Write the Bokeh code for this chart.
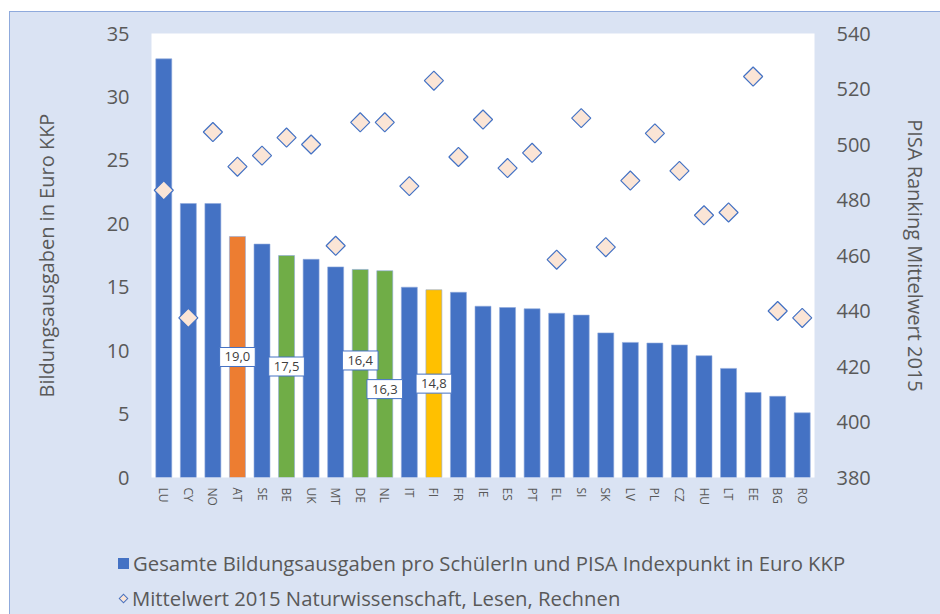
import numpy as np
from bokeh.plotting import figure
from bokeh.layouts import column
from bokeh.models import (ColumnDataSource, LinearAxis, Range1d, FactorRange, FixedTicker, Div)
from bokeh.core.properties import value
from bokeh.embed import file_html
from bokeh.resources import INLINE

countries = ["LU", "CY", "NO", "AT", "SE", "BE", "UK", "MT", "DE", "NL", "IT", "FI",
             "FR", "IE", "ES", "PT", "EL", "SI", "SK", "LV", "PL", "CZ", "HU", "LT",
             "EE", "BG", "RO"]
ausgaben = [33.0, 21.6, 21.6, 19.0, 18.4, 17.5, 17.2, 16.6, 16.4, 16.3, 15.0, 14.8,
            14.6, 13.5, 13.4, 13.3, 12.95, 12.8, 11.4, 10.65, 10.6, 10.45, 9.6, 8.6,
            6.7, 6.4, 5.1]
pisa = [483.5, 437.5, 504.5, 492.0, 496.0, 502.5, 500.0, 463.5, 508.0, 508.0, 485.0, 523.0,
        495.5, 509.0, 491.5, 497.0, 458.5, 509.5, 463.0, 487.0, 504.0, 490.5, 474.5, 475.5,
        524.5, 440.0, 437.5]
highlight = {"AT": "#ED7D31", "BE": "#70AD47", "DE": "#70AD47", "NL": "#70AD47", "FI": "#FFC000"}
labelled = ["AT", "BE", "DE", "NL", "FI"]
label_text = ["19,0", "17,5", "16,4", "16,3", "14,8"]
label_pix_offset = [0, 0, -13, 15, 0]
legend_labels = ["Gesamte Bildungsausgaben pro SchülerIn und PISA Indexpunkt in Euro KKP",
                 "Mittelwert 2015 Naturwissenschaft, Lesen, Rechnen"]

BLUE = "#4472C4"
BG = "#DAE3F3"
GREY = "#595959"
PEACH = "#FBE5D6"
FONT = "Open Sans"

colors = [highlight.get(c, BLUE) for c in countries]
src = ColumnDataSource(dict(x=countries, y=ausgaben, p=pisa, c=colors))

p = figure(width=930, height=510, x_range=FactorRange(*countries, range_padding=0),
           y_range=Range1d(0, 35), output_backend="svg", toolbar_location=None,
           min_border_left=141, min_border_right=126, min_border_top=21, min_border_bottom=45)
p.background_fill_color = "white"
p.border_fill_color = BG
p.outline_line_color = None
p.xgrid.grid_line_color = None
p.ygrid.grid_line_color = None
p.extra_y_ranges = {"pisa": Range1d(380, 540)}

p.vbar(x="x", top="y", source=src, fill_color="c", width=0.65, line_color="#8FAADC", line_width=0.6)
p.scatter(x="x", y="p", source=src, y_range_name="pisa", marker="square", angle=np.pi / 4,
          size=13.5, fill_color=PEACH, line_color=BLUE, line_width=1.2)

# data labels
ly = [ausgaben[countries.index(c)] / 2 for c in labelled]
lsrc = ColumnDataSource(dict(x=labelled, y=ly, t=label_text, o=label_pix_offset))
p.text(x="x", y="y", text="t", y_offset="o", source=lsrc, text_align="center",
       text_baseline="middle", text_font=value(FONT), text_font_size="13px", text_color="#404040",
       background_fill_color="white", border_line_color=BLUE, border_line_width=1,
       padding=5)

# axes
ax = p.yaxis[0]
ax.ticker = FixedTicker(ticks=[0, 5, 10, 15, 20, 25, 30, 35])
ax.axis_label = "Bildungsausgaben in Euro KKP"

ax2 = LinearAxis(y_range_name="pisa", ticker=FixedTicker(ticks=list(range(380, 541, 20))),
                 axis_label="PISA Ranking Mittelwert 2015")
p.add_layout(ax2, "right")

xa = p.xaxis[0]
for a in [ax, ax2, xa]:
    a.axis_line_color = None
    a.major_tick_line_color = None
    a.minor_tick_line_color = None
    a.major_tick_out = 0
    a.major_tick_in = 0
    a.minor_tick_out = 0
    a.major_label_text_color = GREY
    a.major_label_text_font = FONT
for a in [ax, ax2]:
    a.major_label_text_font_size = "20px"
    a.axis_label_text_font = FONT
    a.axis_label_text_font_size = "20px"
    a.axis_label_text_font_style = "normal"
    a.axis_label_text_color = GREY
ax.major_label_standoff = 22
ax.axis_label_standoff = 44
ax2.major_label_standoff = 22
ax2.axis_label_standoff = 28

xa.major_label_orientation = "vertical"
xa.major_label_text_font_size = "12px"
xa.major_label_standoff = 10

# legend as HTML below the plot
row_css = ("position:absolute; left:108px; white-space:nowrap; line-height:24px; "
           "height:24px; display:flex; align-items:center;")
sq = f'<span style="display:inline-block; width:11px; height:11px; background:{BLUE}; margin-right:4px;"></span>'
di = (f'<span style="display:inline-block; width:7px; height:7px; background:{PEACH}; '
      f'border:1px solid {BLUE}; transform:rotate(45deg); margin:0 5px 0 2px;"></span>')
html = (f'<div style="position:relative; width:930px; height:92px; font-family:\'{FONT}\'; '
        f'font-size:20.3px; color:{GREY};">'
        f'<div style="{row_css} top:29px;">{sq}<span>{legend_labels[0]}</span></div>'
        f'<div style="{row_css} top:64px;">{di}<span>{legend_labels[1]}</span></div>'
        f'</div>')
leg = Div(text=html, width=930, height=92, styles={"background-color": BG}, margin=0)

layout = column(p, leg, spacing=0, margin=(12, 0, 0, 10),
                styles={"outline": "1px solid #8FAADC", "background-color": BG})
open("out.html", "w").write(file_html(layout, INLINE))
